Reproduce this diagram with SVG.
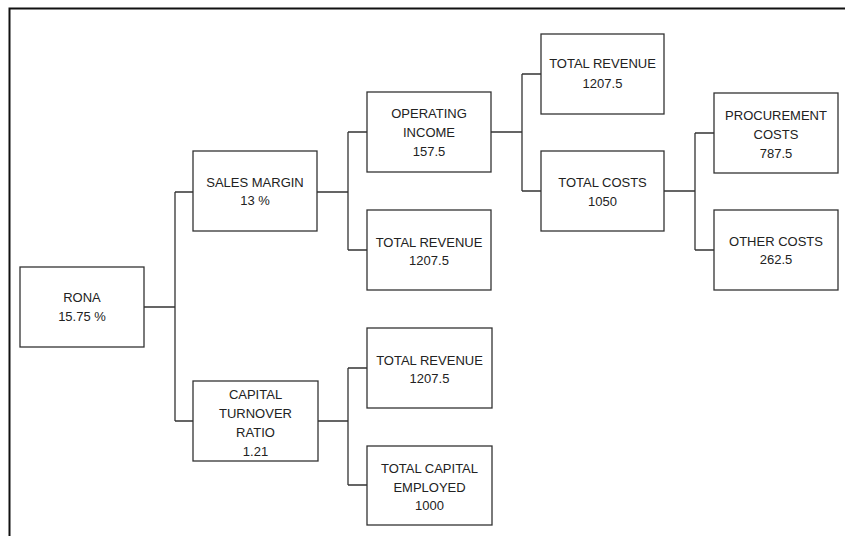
<svg xmlns="http://www.w3.org/2000/svg" width="845" height="536" viewBox="0 0 845 536">
<style>
.box{fill:#fff;stroke:#333;stroke-width:1.3}
.t{font-family:"Liberation Sans",Arial,sans-serif;font-size:13px;fill:#222;text-anchor:middle}
.c{fill:none;stroke:#333;stroke-width:1.3}
</style>
<rect width="845" height="536" fill="#fff"/>
<path d="M9.5,536 V8.5 H845" fill="none" stroke="#111" stroke-width="2"/>
<g id="connectors">
<path class="c" d="M144,307 H175 M175,192 V421 M175,192 H193 M175,421 H193"/>
<path class="c" d="M317,192 H348 M348,132 V250 M348,132 H367 M348,250 H367"/>
<path class="c" d="M318,421 H348 M348,368 V485 M348,368 H367 M348,485 H367"/>
<path class="c" d="M491,132 H522 M522,74 V191 M522,74 H541 M522,191 H541"/>
<path class="c" d="M664,191 H695 M695,133 V250 M695,133 H714 M695,250 H714"/>
</g>
<g id="rona"><rect class="box" x="20" y="267" width="124" height="80"/><text class="t" x="82" y="302">RONA</text><text class="t" x="82" y="321">15.75 %</text></g>
<g id="sales-margin"><rect class="box" x="193" y="151" width="124" height="80"/><text class="t" x="255" y="187">SALES MARGIN</text><text class="t" x="255" y="205">13 %</text></g>
<g id="capital-turnover"><rect class="box" x="193" y="381" width="125" height="80"/><text class="t" x="255.5" y="398.5">CAPITAL</text><text class="t" x="255.5" y="417.5">TURNOVER</text><text class="t" x="255.5" y="436.5">RATIO</text><text class="t" x="255.5" y="455.5">1.21</text></g>
<g id="operating-income"><rect class="box" x="367" y="92" width="124" height="80"/><text class="t" x="429" y="118">OPERATING</text><text class="t" x="429" y="137">INCOME</text><text class="t" x="429" y="156">157.5</text></g>
<g id="total-revenue-2"><rect class="box" x="367" y="210" width="124" height="80"/><text class="t" x="429" y="246.5">TOTAL REVENUE</text><text class="t" x="429" y="264.5">1207.5</text></g>
<g id="total-revenue-3"><rect class="box" x="367" y="328" width="125" height="80"/><text class="t" x="429.5" y="364.5">TOTAL REVENUE</text><text class="t" x="429.5" y="382.5">1207.5</text></g>
<g id="total-capital-employed"><rect class="box" x="367" y="446" width="125" height="79"/><text class="t" x="429.5" y="473">TOTAL CAPITAL</text><text class="t" x="429.5" y="491.5">EMPLOYED</text><text class="t" x="429.5" y="510">1000</text></g>
<g id="total-revenue-1"><rect class="box" x="541" y="34" width="123" height="80"/><text class="t" x="602.5" y="68">TOTAL REVENUE</text><text class="t" x="602.5" y="88">1207.5</text></g>
<g id="total-costs"><rect class="box" x="541" y="151" width="123" height="80"/><text class="t" x="602.5" y="187">TOTAL COSTS</text><text class="t" x="602.5" y="206">1050</text></g>
<g id="procurement-costs"><rect class="box" x="714" y="93" width="124" height="80"/><text class="t" x="776" y="120">PROCUREMENT</text><text class="t" x="776" y="139">COSTS</text><text class="t" x="776" y="158">787.5</text></g>
<g id="other-costs"><rect class="box" x="714" y="210" width="124" height="80"/><text class="t" x="776" y="246">OTHER COSTS</text><text class="t" x="776" y="264">262.5</text></g>
</svg>
